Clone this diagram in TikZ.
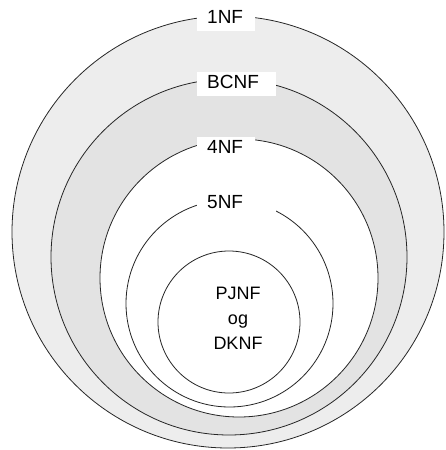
\documentclass[tikz,border=0pt]{standalone}
\usepackage{fontspec}
\setmainfont{Liberation Sans}
\begin{document}
\begin{tikzpicture} [
   x=1pt, y=-1pt,
   ring/.style={circle, draw=black!85, line width=0.8pt, inner sep=0pt, minimum size=#1},
   lbl/.style={fill=white, anchor=north west, inner xsep=10pt, inner ysep=0pt,
      minimum height=24pt, text depth=4pt, text width=#1,
      font=\fontsize{19}{23}\selectfont}
]
   \useasboundingbox (0,0) rectangle (445,450);
   % nested circles, outside in
   \node (nf1) [ring=432pt, fill=black!7] at (228,232) {};
   \node (bcnf) [ring=356pt, fill=black!11] at (229,257) {};
   \node (nf4) [ring=278pt, fill=white] at (239,278) {};
   \node (nf5) [ring=207pt, fill=white] at (229.5,303.5) {};
   \node (pjnf) [ring=142pt, fill=white] at (229,322) {};
   \node (pjtext) [align=center, font=\fontsize{18}{25}\selectfont]
      at (238,318) {PJNF\\og\\DKNF};
   % labels on top of the circles
   \node (nf1lbl) [lbl=38pt] at (197,7) {1NF};
   \node (bcnflbl) [lbl=59pt] at (197,72) {BCNF};
   \node (nf4lbl) [lbl=38pt] at (197,137) {4NF};
   \node (nf5lbl) [lbl=59pt] at (197,192) {5NF};
\end{tikzpicture}
\end{document}
